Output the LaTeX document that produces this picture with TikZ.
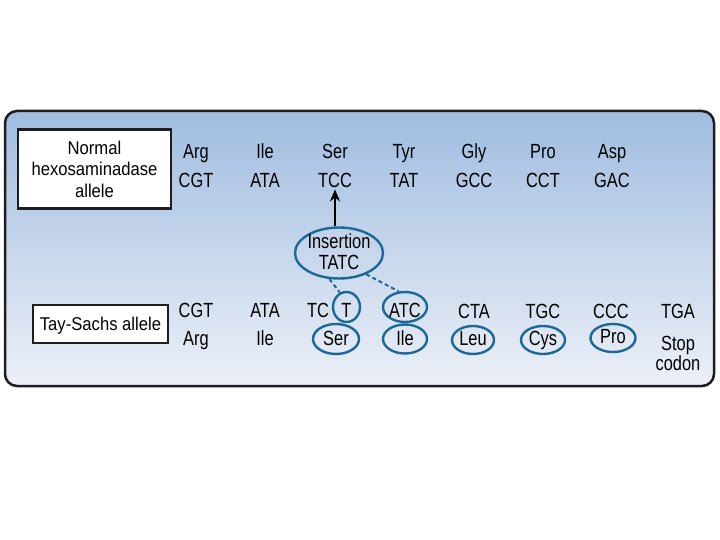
\documentclass[tikz,border=0pt]{standalone}
\usepackage{fontspec}
\setmainfont{Liberation Sans}
\newfontfamily\lblfont[FakeStretch=0.8]{Liberation Sans}
\newfontfamily\boxfont[FakeStretch=0.9]{Liberation Sans}
\usetikzlibrary{shapes.geometric,arrows.meta}
\definecolor{panelTop}{RGB}{160,188,224}
\definecolor{panelBot}{RGB}{236,240,247}
\definecolor{ringBlue}{RGB}{28,104,150}
\definecolor{edgeDark}{RGB}{30,30,34}
\begin{document}
\begin{tikzpicture}[x=1pt,y=-1pt,
  lbl/.style={font=\lblfont\fontsize{20.5}{22}\selectfont, anchor=base, inner sep=0pt},
  labelbox/.style={draw=edgeDark, fill=white, line width=2.5pt, inner sep=0pt, align=center,
    font=\boxfont\fontsize{18.5}{21.5}\selectfont},
  ring/.style={ellipse, draw=ringBlue, line width=2.4pt, inner sep=0pt},
  dashline/.style={draw=ringBlue, line width=2pt, dash pattern=on 4pt off 3pt},
  arrowline/.style={draw=black, line width=2.5pt, -{Stealth[length=12pt,width=10pt]}, shorten >=1pt}]
\useasboundingbox (0,0) rectangle (720,540);
\fill[white] (0,0) rectangle (720,540);
% panel
\shade[top color=panelTop, bottom color=panelBot, rounded corners=12pt] (5,111) rectangle (714,386);
\draw[edgeDark, line width=2.5pt, rounded corners=12pt] (5,111) rectangle (714,386);
% label boxes
\node[labelbox, minimum width=153pt, minimum height=79pt] (normal) at (94.5,169) {Normal\\hexosaminadase\\allele};
\node[labelbox, minimum width=135pt, minimum height=38pt, text depth=0pt] (taysachs) at (100.5,324) {Tay-Sachs allele};
% top row: amino acids
\node[lbl] (aArg) at (196,159) {Arg};
\node[lbl] (aIle) at (265,159) {Ile};
\node[lbl] (aSer) at (335,159) {Ser};
\node[lbl] (aTyr) at (404,159) {Tyr};
\node[lbl] (aGly) at (474,159) {Gly};
\node[lbl] (aPro) at (543,159) {Pro};
\node[lbl] (aAsp) at (612,159) {Asp};
% top row: codons
\node[lbl] (cCGT) at (196,188) {CGT};
\node[lbl] (cATA) at (265,188) {ATA};
\node[lbl] (cTCC) at (335,188) {TCC};
\node[lbl] (cTAT) at (404,188) {TAT};
\node[lbl] (cGCC) at (474,188) {GCC};
\node[lbl] (cCCT) at (543,188) {CCT};
\node[lbl] (cGAC) at (612,188) {GAC};
% insertion
\node[ring, minimum width=88pt, minimum height=51pt] (ins) at (339,253) {};
\node[lbl] (insA) at (339,248) {Insertion};
\node[lbl] (insB) at (339,269) {TATC};
\draw[arrowline] (cTCC.south |- ins.north) -- (cTCC.south);
% bottom row: codons
\node[lbl] (bCGT) at (196,317) {CGT};
\node[lbl] (bATA) at (265,317) {ATA};
\node[lbl] (bTC) at (318,317) {TC};
\node[ring, minimum width=27pt, minimum height=30pt] (ringT) at (346.5,307) {};
\node[lbl] (bT) at (346.5,317) {T};
\node[ring, minimum width=44pt, minimum height=30pt] (ringATC) at (405,307) {};
\node[lbl] (bATC) at (405,317) {ATC};
\node[lbl] (bCTA) at (474,318) {CTA};
\node[lbl] (bTGC) at (543,318) {TGC};
\node[lbl] (bCCC) at (611,318) {CCC};
\node[lbl] (bTGA) at (678,318) {TGA};
% bottom row: amino acids
\node[lbl] (bArg) at (196,345) {Arg};
\node[lbl] (bIle) at (265,345) {Ile};
\node[ring, minimum width=46pt, minimum height=30pt] (ringSer) at (336,339) {};
\node[lbl] (bSer) at (336,345) {Ser};
\node[ring, minimum width=44pt, minimum height=29pt] (ringIle) at (405,339) {};
\node[lbl] (bIle2) at (405,345) {Ile};
\node[ring, minimum width=42pt, minimum height=28pt] (ringLeu) at (473,340) {};
\node[lbl] (bLeu) at (473,345) {Leu};
\node[ring, minimum width=44pt, minimum height=28pt] (ringCys) at (543,340) {};
\node[lbl] (bCys) at (543,345) {Cys};
\node[ring, minimum width=45pt, minimum height=28pt] (ringPro) at (613,338) {};
\node[lbl] (bPro) at (613,343) {Pro};
\node[lbl] (bStop) at (678,350) {Stop};
\node[lbl] (bCodon) at (678,370) {codon};
% dashed links
\draw[dashline] (ins.250) -- (ringT.115);
\draw[dashline] (ins.322) -- (ringATC.112);
\end{tikzpicture}
\end{document}
